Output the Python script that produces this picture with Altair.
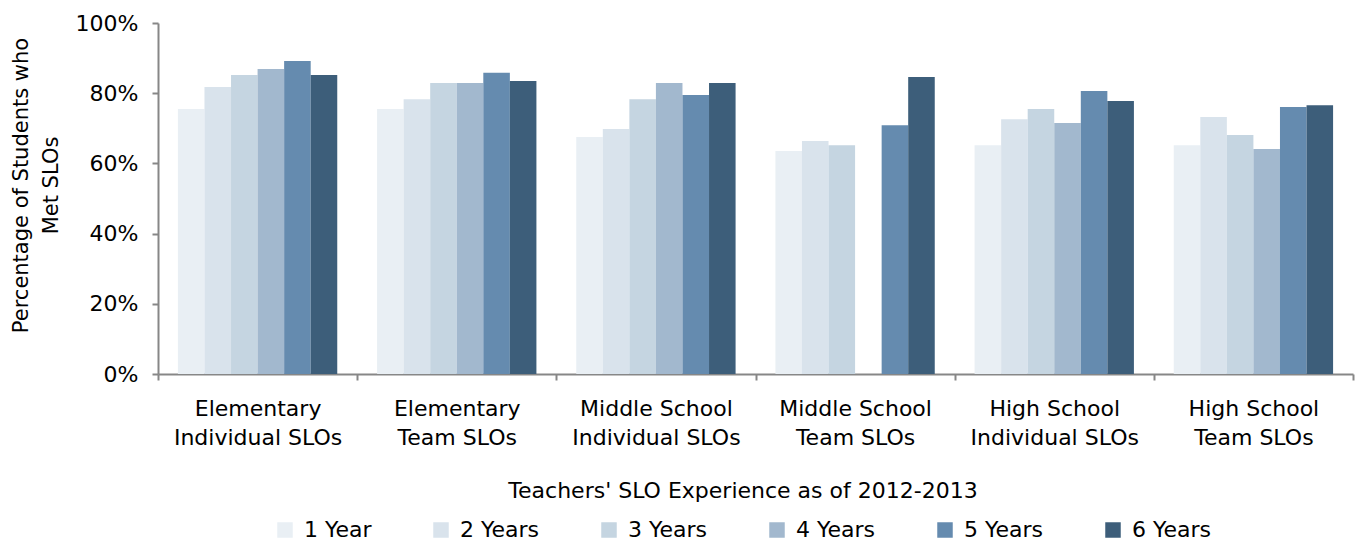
import altair as alt
import pandas as pd

categories = [
    "Elementary\nIndividual SLOs",
    "Elementary\nTeam SLOs",
    "Middle School\nIndividual SLOs",
    "Middle School\nTeam SLOs",
    "High School\nIndividual SLOs",
    "High School\nTeam SLOs",
]
years = ["1 Year", "2 Years", "3 Years", "4 Years", "5 Years", "6 Years"]
colors = ["#E9EFF4", "#D9E3EC", "#C5D5E1", "#A2B8CE", "#658BAF", "#3D5E7A"]

values_1y = [0.755, 0.755, 0.675, 0.635, 0.652, 0.652]
values_2y = [0.818, 0.783, 0.698, 0.664, 0.726, 0.732]
values_3y = [0.852, 0.829, 0.783, 0.652, 0.755, 0.681]
values_4y = [0.869, 0.829, 0.829, None, 0.715, 0.641]
values_5y = [0.892, 0.858, 0.795, 0.709, 0.806, 0.761]
values_6y = [0.852, 0.835, 0.829, 0.846, 0.778, 0.766]

series = [values_1y, values_2y, values_3y, values_4y, values_5y, values_6y]
rows = []
for yr, vals in zip(years, series):
    for cat, v in zip(categories, vals):
        if v is not None:
            rows.append({"category": cat, "year": yr, "value": v})
df = pd.DataFrame(rows)

FONT = "DejaVu Sans"

chart = alt.Chart(df).mark_bar().encode(
    x=alt.X(
        "category:N",
        sort=categories,
        scale=alt.Scale(paddingInner=0, paddingOuter=0),
        axis=alt.Axis(
            title=None,
            labelAngle=0,
            labelExpr="split(datum.label, '\\n')",
            tickBand="extent",
            labelFontSize=22,
            labelLineHeight=29,
            labelPadding=18,
            labelColor="#000000",
            labelFont=FONT,
            labelLimit=300,
            tickSize=6,
        ),
    ),
    xOffset=alt.XOffset(
        "year:N", sort=years, scale=alt.Scale(domain=years, paddingInner=0, paddingOuter=0.75)
    ),
    y=alt.Y(
        "value:Q",
        scale=alt.Scale(domain=[0, 1], nice=False),
        axis=alt.Axis(
            format=".0%",
            values=[0, 0.2, 0.4, 0.6, 0.8, 1.0],
            title=["Percentage of Students who", "Met SLOs"],
            titleFontSize=21,
            titleFontWeight="normal",
            titleFont=FONT,
            titleColor="#000000",
            titleLineHeight=30,
            titleX=-127,
            titleY=162,
            labelFontSize=22,
            labelFont=FONT,
            labelColor="#000000",
            labelPadding=14,
            tickSize=6,
            grid=False,
        ),
    ),
    color=alt.Color(
        "year:N",
        sort=years,
        scale=alt.Scale(domain=years, range=colors),
        legend=alt.Legend(
            title="Teachers' SLO Experience as of 2012-2013",
            orient="none",
            direction="horizontal",
            legendX=116,
            legendY=458,
            titleAnchor="middle",
            titleFontSize=22,
            titleFontWeight="normal",
            titleFont=FONT,
            titleColor="#000000",
            titleLimit=1000,
            titlePadding=16,
            labelFontSize=22,
            labelFont=FONT,
            labelColor="#000000",
            labelOffset=8,
            labelLimit=300,
            symbolType="square",
            symbolSize=240,
            symbolStrokeWidth=0,
            columnPadding=58,
            columns=6,
        ),
    ),
).properties(
    width=1195,
    height=351,
    autosize=alt.AutoSizeParams(type="none"),
    padding={"left": 158, "top": 23, "right": 3, "bottom": 169},
).configure_view(
    stroke=None
).configure_axis(
    domainColor="#878787",
    domainWidth=2,
    tickColor="#878787",
    tickWidth=2,
)

chart.save("out.html", embed_options={"renderer": "svg", "actions": False})
